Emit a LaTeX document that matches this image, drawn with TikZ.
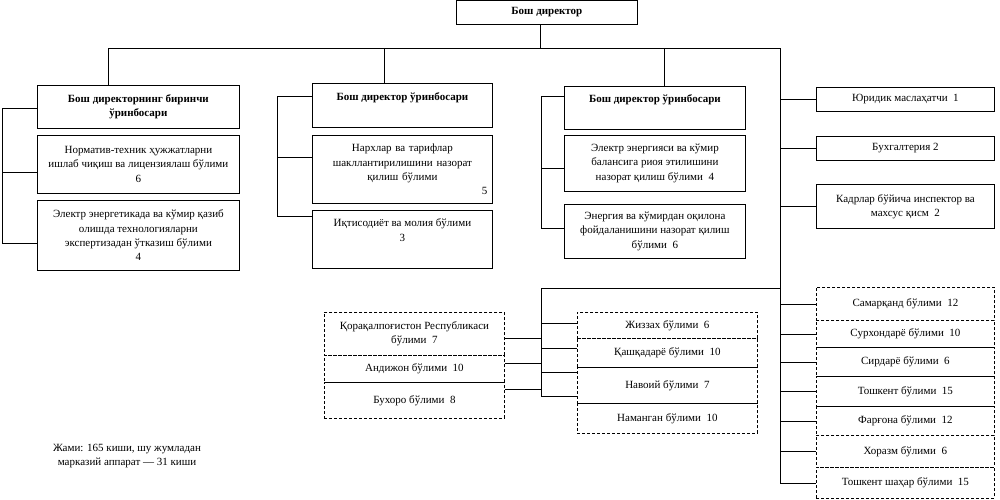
\documentclass[tikz,border=0pt]{standalone}
\usepackage{fontspec}
\setmainfont{Liberation Serif}
\begin{document}
\begin{tikzpicture}[x=1pt,y=-1pt,line width=0.8pt,
  font=\fontsize{11}{14.3}\selectfont,
  box/.style={draw,anchor=north west,align=center,inner sep=1pt},
  dbox/.style={box,dash pattern=on 3pt off 2pt}]
\useasboundingbox (0,0) rectangle (1000,499);
% Top
\node[box,minimum width=181,minimum height=24,font=\fontsize{11}{14.3}\selectfont\bfseries] (top) at (456,0) {Бош директор};
% Column 1
\node[box,minimum width=202,minimum height=43,font=\fontsize{11}{14.3}\selectfont\bfseries] (h1) at (37,85) {Бош директорнинг биринчи\\ўринбосари};
\node[box,minimum width=202,minimum height=58] (a1) at (37,135) {Норматив-техник ҳужжатларни\\ишлаб чиқиш ва лицензиялаш бўлими\\6};
\node[box,minimum width=202,minimum height=70] (a2) at (37,200) {Электр энергетикада ва кўмир қазиб\\олишда технологияларни\\экспертизадан ўтказиш бўлими\\4};
% Column 2
\node[box,minimum width=180,minimum height=44,font=\fontsize{11}{14.3}\selectfont\bfseries] (h2) at (312,83) {Бош директор ўринбосари\\\strut};
\node[box,minimum width=180,minimum height=68,text width=170] (b1) at (312,135) {Нархлар ва тарифлар\\шакллантирилишини назорат\\қилиш бўлими\\\makebox[\linewidth][r]{5}};
\node[box,minimum width=180,minimum height=58] (b2) at (312,210) {Иқтисодиёт ва молия бўлими\\3\\\strut};
% Column 3
\node[box,minimum width=181,minimum height=43,font=\fontsize{11}{14.3}\selectfont\bfseries] (h3) at (564,86) {Бош директор ўринбосари\\\strut};
\node[box,minimum width=181,minimum height=56] (c1) at (564,135) {Электр энергияси ва кўмир\\балансига риоя этилишини\\назорат қилиш бўлими~~4};
\node[box,minimum width=181,minimum height=54] (c2) at (564,204) {Энергия ва кўмирдан оқилона\\фойдаланишини назорат қилиш\\бўлими~~6};
% Column 4
\node[box,minimum width=178,minimum height=24] (d1) at (816,87) {Юридик маслаҳатчи~~1};
\node[box,minimum width=178,minimum height=24] (d2) at (816,136) {Бухгалтерия 2};
\node[box,minimum width=178,minimum height=44] (d3) at (816,184) {Кадрлар бўйича инспектор ва\\махсус қисм~~2};
% Regions, right
\node[dbox,minimum width=178,minimum height=33] (r1) at (816,287) {Самарқанд бўлими~~12};
\node[dbox,minimum width=178,minimum height=27] (r2) at (816,320) {Сурхондарё бўлими~~10};
\node[dbox,minimum width=178,minimum height=29] (r3) at (816,347) {Сирдарё бўлими~~6};
\node[dbox,minimum width=178,minimum height=30] (r4) at (816,376) {Тошкент бўлими~~15};
\node[dbox,minimum width=178,minimum height=29] (r5) at (816,406) {Фарғона бўлими~~12};
\node[dbox,minimum width=178,minimum height=32] (r6) at (816,435) {Хоразм бўлими~~6};
\node[dbox,minimum width=178,minimum height=31] (r7) at (816,467) {Тошкент шаҳар бўлими~~15};
% Regions, middle
\node[dbox,minimum width=180,minimum height=26] (m1) at (577,312) {Жиззах бўлими~~6};
\node[dbox,minimum width=180,minimum height=29] (m2) at (577,338) {Қашқадарё бўлими~~10};
\node[dbox,minimum width=180,minimum height=36] (m3) at (577,367) {Навоий бўлими~~7};
\node[dbox,minimum width=180,minimum height=30] (m4) at (577,403) {Наманган бўлими~~10};
% Regions, left
\node[dbox,minimum width=180,minimum height=43] (l1) at (324,312) {Қорақалпоғистон Республикаси\\бўлими~~7};
\node[dbox,minimum width=180,minimum height=27] (l2) at (324,355) {Андижон бўлими~~10};
\node[dbox,minimum width=180,minimum height=36] (l3) at (324,382) {Бухоро бўлими~~8};
% Total
\node[align=center] (total) at (127,456) {Жами: 165 киши, шу жумладан\\марказий аппарат — 31 киши};
% Connectors
\coordinate (busL) at (108,48);
\coordinate (busR) at (780,48);
\coordinate (busM) at (541,288);
\draw (busL) -- (busR);
\draw ([xshift=-6.5pt]top.south) -- ([xshift=-6.5pt]top.south |- busL);
\draw (busL) -- (busL |- h1.north);
\draw ([xshift=-18pt]h2.north) -- ([xshift=-18pt]h2.north |- busL);
\draw ([xshift=9.5pt]h3.north) -- ([xshift=9.5pt]h3.north |- busL);
% brackets
\draw ([yshift=-1.5pt]h1.west) -| ([xshift=-35pt,yshift=-8pt]a2.west) -- ([yshift=-8pt]a2.west);
\draw ([yshift=-8pt]a1.west) -- ++(-35,0);
\draw ([yshift=9pt]h2.west) -| ([xshift=-35pt,yshift=23pt]b2.west) -- ([yshift=23pt]b2.west);
\draw ([yshift=12pt]b1.west) -- ++(-35,0);
\draw ([yshift=11.5pt]h3.west) -| ([xshift=-23pt,yshift=3pt]c2.west) -- ([yshift=3pt]c2.west);
\draw ([yshift=-5pt]c1.west) -- ++(-23,0);
% trunk
\draw (busR) |- (r7.west);
\foreach \n in {d1,d2,d3,r1,r2,r3,r4,r5,r6}
  \draw (busR |- \n.west) -- (\n.west);
\draw (busM) -- (busR |- busM);
\draw (busM) |- ([yshift=22pt]m4.west);
\draw ([yshift=2pt]m1.west) -- ++(-36,0);
\draw ([yshift=4.5pt]m2.west) -- ++(-36,0);
\draw ([yshift=13pt]m3.west) -- ++(-36,0);
\draw ([yshift=-4.5pt]l1.east) -- ++(37,0);
\draw ([yshift=5.5pt]l2.east) -- ++(37,0);
\draw ([yshift=11pt]l3.east) -- ++(37,0);
\end{tikzpicture}
\end{document}
